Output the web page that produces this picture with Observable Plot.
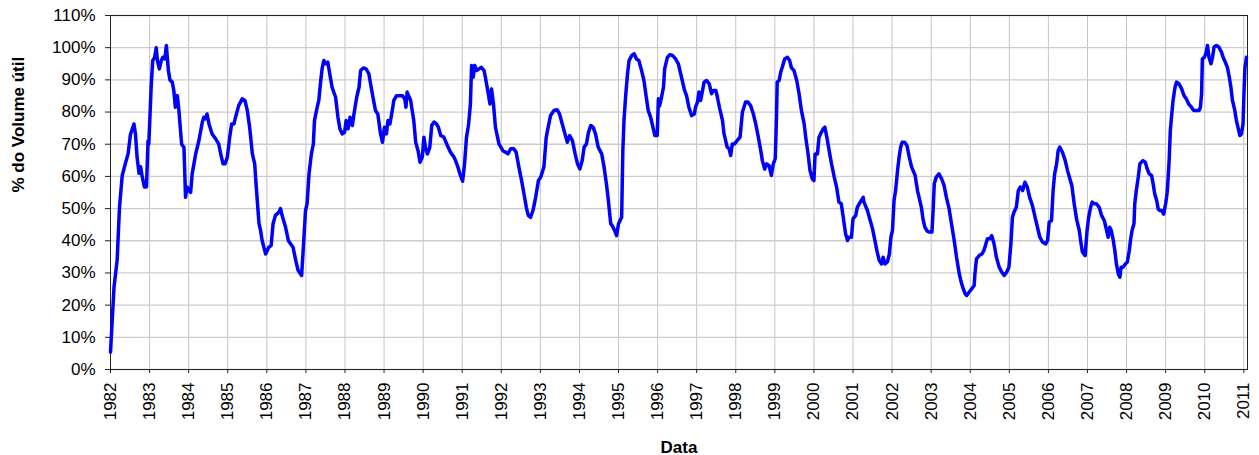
<!DOCTYPE html>
<html>
<head>
<meta charset="utf-8">
<script src="https://cdn.jsdelivr.net/npm/d3@7"></script>
<script src="https://cdn.jsdelivr.net/npm/@observablehq/plot@0.6"></script>
<style>
  body { margin: 0; background: #fff; }
</style>
</head>
<body>
<div id="chart"></div>
<script>
// ano (decimal) e % do volume útil
let anos = [
  1982.00, 1982.09, 1982.17, 1982.23, 1982.30, 1982.38, 1982.45, 1982.51, 1982.60, 1982.64,
  1982.68, 1982.73, 1982.77, 1982.81, 1982.87, 1982.92, 1982.96, 1982.98, 1983.04, 1983.08,
  1983.13, 1983.17, 1983.20, 1983.25, 1983.30, 1983.34, 1983.39, 1983.43, 1983.48, 1983.52,
  1983.58, 1983.62, 1983.66, 1983.71, 1983.75, 1983.82, 1983.88, 1983.92, 1983.96, 1984.01,
  1984.05, 1984.09, 1984.18, 1984.26, 1984.35, 1984.39, 1984.43, 1984.47, 1984.52, 1984.60,
  1984.69, 1984.77, 1984.82, 1984.88, 1984.93, 1984.99, 1985.05, 1985.10, 1985.16, 1985.20,
  1985.28, 1985.37, 1985.44, 1985.50, 1985.56, 1985.63, 1985.69, 1985.73, 1985.80, 1985.84,
  1985.88, 1985.97, 1986.05, 1986.11, 1986.16, 1986.22, 1986.31, 1986.35, 1986.39, 1986.48,
  1986.55, 1986.61, 1986.67, 1986.74, 1986.80, 1986.89, 1986.93, 1986.99, 1987.03, 1987.08,
  1987.14, 1987.19, 1987.22, 1987.29, 1987.33, 1987.38, 1987.42, 1987.46, 1987.51, 1987.56,
  1987.61, 1987.67, 1987.76, 1987.82, 1987.87, 1987.93, 1987.99, 1988.03, 1988.08, 1988.13,
  1988.19, 1988.23, 1988.30, 1988.36, 1988.40, 1988.47, 1988.54, 1988.61, 1988.70, 1988.78,
  1988.84, 1988.91, 1988.96, 1989.01, 1989.06, 1989.10, 1989.15, 1989.21, 1989.25, 1989.32,
  1989.41, 1989.47, 1989.53, 1989.56, 1989.59, 1989.68, 1989.76, 1989.81, 1989.87, 1989.92,
  1989.98, 1990.02, 1990.06, 1990.11, 1990.17, 1990.22, 1990.28, 1990.34, 1990.39, 1990.45,
  1990.53, 1990.62, 1990.70, 1990.79, 1990.83, 1990.89, 1990.94, 1991.01, 1991.06, 1991.11,
  1991.16, 1991.21, 1991.24, 1991.28, 1991.32, 1991.37, 1991.43, 1991.49, 1991.56, 1991.60,
  1991.66, 1991.71, 1991.75, 1991.80, 1991.85, 1991.94, 1992.04, 1992.11, 1992.17, 1992.24,
  1992.32, 1992.38, 1992.45, 1992.52, 1992.58, 1992.64, 1992.69, 1992.75, 1992.81, 1992.88,
  1992.95, 1993.01, 1993.09, 1993.15, 1993.20, 1993.26, 1993.35, 1993.43, 1993.49, 1993.56,
  1993.63, 1993.69, 1993.75, 1993.82, 1993.89, 1993.95, 1994.01, 1994.07, 1994.12, 1994.18,
  1994.23, 1994.29, 1994.35, 1994.41, 1994.48, 1994.57, 1994.63, 1994.69, 1994.74, 1994.80,
  1994.84, 1994.90, 1994.95, 1995.00, 1995.04, 1995.08, 1995.11, 1995.14, 1995.18, 1995.23,
  1995.27, 1995.34, 1995.40, 1995.46, 1995.52, 1995.59, 1995.65, 1995.71, 1995.76, 1995.82,
  1995.88, 1995.93, 1995.99, 1996.02, 1996.05, 1996.10, 1996.15, 1996.18, 1996.25, 1996.31,
  1996.38, 1996.46, 1996.53, 1996.59, 1996.65, 1996.69, 1996.74, 1996.80, 1996.87, 1996.94,
  1996.97, 1997.02, 1997.06, 1997.10, 1997.15, 1997.19, 1997.25, 1997.32, 1997.38, 1997.43,
  1997.49, 1997.53, 1997.59, 1997.66, 1997.70, 1997.74, 1997.78, 1997.83, 1997.87, 1997.91,
  1997.97, 1998.04, 1998.11, 1998.17, 1998.21, 1998.25, 1998.31, 1998.38, 1998.45, 1998.51,
  1998.57, 1998.64, 1998.68, 1998.74, 1998.79, 1998.85, 1998.91, 1998.96, 1999.01, 1999.04,
  1999.06, 1999.11, 1999.15, 1999.19, 1999.25, 1999.32, 1999.38, 1999.42, 1999.49, 1999.56,
  1999.62, 1999.68, 1999.75, 1999.79, 1999.85, 1999.90, 1999.96, 2000.00, 2000.03, 2000.09,
  2000.13, 2000.19, 2000.24, 2000.28, 2000.33, 2000.39, 2000.45, 2000.52, 2000.58, 2000.64,
  2000.70, 2000.75, 2000.81, 2000.86, 2000.90, 2000.96, 2001.00, 2001.07, 2001.11, 2001.17,
  2001.26, 2001.28, 2001.37, 2001.44, 2001.50, 2001.56, 2001.61, 2001.67, 2001.73, 2001.77,
  2001.82, 2001.88, 2001.93, 2001.97, 2002.01, 2002.05, 2002.09, 2002.14, 2002.18, 2002.22,
  2002.26, 2002.32, 2002.38, 2002.44, 2002.50, 2002.59, 2002.65, 2002.71, 2002.75, 2002.79,
  2002.84, 2002.90, 2002.96, 2003.02, 2003.05, 2003.08, 2003.13, 2003.20, 2003.27, 2003.33,
  2003.39, 2003.46, 2003.52, 2003.59, 2003.65, 2003.72, 2003.77, 2003.82, 2003.87, 2003.91,
  2003.97, 2004.04, 2004.10, 2004.12, 2004.16, 2004.23, 2004.30, 2004.35, 2004.40, 2004.44,
  2004.50, 2004.55, 2004.61, 2004.67, 2004.74, 2004.81, 2004.87, 2004.93, 2004.99, 2005.04,
  2005.08, 2005.12, 2005.18, 2005.23, 2005.28, 2005.34, 2005.40, 2005.46, 2005.52, 2005.59,
  2005.66, 2005.72, 2005.78, 2005.85, 2005.93, 2005.98, 2006.02, 2006.08, 2006.12, 2006.16,
  2006.21, 2006.25, 2006.29, 2006.36, 2006.43, 2006.49, 2006.55, 2006.60, 2006.66, 2006.72,
  2006.79, 2006.83, 2006.87, 2006.94, 2006.99, 2007.03, 2007.08, 2007.12, 2007.17, 2007.23,
  2007.30, 2007.36, 2007.43, 2007.49, 2007.53, 2007.57, 2007.61, 2007.66, 2007.70, 2007.74,
  2007.79, 2007.83, 2007.86, 2007.91, 2007.97, 2008.02, 2008.07, 2008.10, 2008.14, 2008.19,
  2008.21, 2008.25, 2008.30, 2008.34, 2008.38, 2008.42, 2008.48, 2008.53, 2008.58, 2008.64,
  2008.68, 2008.72, 2008.77, 2008.81, 2008.85, 2008.90, 2008.95, 2009.00, 2009.04, 2009.06,
  2009.09, 2009.12, 2009.15, 2009.19, 2009.24, 2009.28, 2009.34, 2009.41, 2009.47, 2009.53,
  2009.59, 2009.66, 2009.72, 2009.79, 2009.86, 2009.89, 2009.92, 2009.94, 2009.99, 2010.03,
  2010.07, 2010.11, 2010.16, 2010.20, 2010.24, 2010.30, 2010.36, 2010.43, 2010.47, 2010.53,
  2010.58, 2010.63, 2010.67, 2010.71, 2010.77, 2010.81, 2010.86, 2010.90, 2010.94, 2010.98,
  2011.01, 2011.03, 2011.07
];

let volume = [
  5.4, 25.6, 34, 50.4, 60.3, 64, 67, 73, 76.3, 73,
  66, 61, 63, 60, 56.7, 56.7, 71, 70, 87.7, 96,
  97, 100, 96, 93.4, 96, 97, 96.5, 100.7, 93, 90,
  89.3, 86.7, 81.5, 85.1, 80.5, 70, 69, 53.5, 56.7, 55.6,
  55, 60.8, 67, 71, 76.9, 78.4, 77.9, 79.4, 76.3, 73.2,
  71.7, 70, 67, 63.9, 63.9, 66, 72.2, 76.3, 76.3, 78.4,
  82, 84.1, 83.6, 80.5, 75.3, 67, 63.9, 56.7, 45.3, 43.2,
  40.1, 35.9, 38, 38.5, 45.3, 47.9, 48.9, 50, 47.9, 44.2,
  40.1, 39, 38, 33.9, 30.8, 29.2, 37, 49.4, 51.5, 60.8,
  67, 70, 77.4, 81.5, 83.6, 89.8, 93.9, 96, 95, 95.5,
  91.9, 87.7, 84.6, 78.4, 74.8, 73.2, 73.7, 77.4, 74.8, 78.4,
  75.8, 79.4, 84.6, 87.7, 92.9, 93.7, 93.4, 91.9, 85.7, 80.5,
  79.4, 73.2, 70.6, 75.3, 73.2, 77.4, 76.3, 80.5, 83.6, 85.1,
  85.1, 85.1, 84.1, 81.5, 86.2, 83.6, 77.4, 70.6, 68, 64.4,
  66, 72.2, 69, 67, 69, 75.8, 76.9, 76.3, 75.3, 72.7,
  72.2, 69.6, 67.5, 66, 64.9, 62.9, 60.8, 58.5, 63.9, 72.2,
  75.8, 82.5, 94.5, 90.8, 94.5, 92.9, 93.4, 93.9, 92.9, 90.3,
  86.2, 82.5, 87.2, 82.5, 75.3, 70.1, 68, 67.5, 67, 68.6,
  68.6, 67.5, 62.9, 58.7, 54.6, 50.4, 47.9, 47.3, 49.4, 53.5,
  58.7, 59.8, 62.9, 72.2, 75.3, 78.9, 80.5, 80.7, 79.4, 76.3,
  73.2, 70.6, 72.7, 71.1, 67, 63.9, 62.3, 64.9, 69.1, 70.1,
  73.7, 75.8, 75.3, 73.2, 69.1, 67, 62.9, 57.7, 52.5, 45.3,
  44.7, 43.2, 41.6, 45.3, 46.3, 47.3, 68, 77.4, 84.6, 91.9,
  96, 97.6, 98.1, 96.5, 96, 92.9, 89.8, 84.6, 80.5, 78.4,
  75.3, 72.7, 72.7, 84.1, 81.9, 84.6, 87.7, 93.4, 97, 97.8,
  97.6, 96.5, 95, 91.9, 88.8, 86.7, 85.1, 81.5, 78.9, 79.4,
  81.5, 83.1, 86.2, 83.6, 86.7, 89.3, 89.8, 88.8, 85.7, 86.7,
  86.7, 84.6, 81, 77.4, 73.2, 71.2, 69.1, 68.6, 66.5, 70.1,
  70.1, 71.2, 72.2, 80, 81.5, 83.1, 83.1, 82, 79.4, 76.3,
  72.7, 68, 64.9, 62.3, 63.9, 63.4, 60.3, 63.9, 65.5, 77.4,
  89.3, 89.8, 92.4, 93.9, 96.5, 97, 96, 93.9, 92.9, 89.8,
  85.7, 80.5, 76.3, 72.2, 67, 61.8, 59.2, 58.7, 67, 67,
  72.2, 73.7, 74.8, 75.3, 72.2, 68, 63.9, 59.8, 56.7, 52,
  51.5, 47.3, 42.2, 40.1, 41.1, 41.1, 46.8, 47.9, 50.4, 51.7,
  53.5, 52, 49.4, 46.3, 43.7, 40.1, 37, 33.9, 32.8, 34.9,
  32.8, 33.4, 35.9, 41.1, 43.2, 52.5, 55.6, 61.8, 66, 69.1,
  70.6, 70.6, 69.6, 66, 62.9, 60.3, 55.6, 52.5, 50.4, 46.8,
  44.2, 43, 42.7, 42.7, 49.4, 57.7, 59.8, 60.8, 59.2, 57.2,
  53.5, 49.9, 45.3, 40.1, 34.9, 29.7, 27.1, 25.1, 23.5, 23,
  24, 25.1, 26.1, 29.7, 34.4, 35.4, 35.9, 37, 39, 40.6,
  40.6, 41.6, 39, 34.9, 31.8, 30.2, 29.2, 30.2, 31.8, 39,
  47.3, 48.9, 50.4, 55.6, 56.7, 55.6, 58.2, 56.7, 53.5, 51,
  47.3, 44.2, 41.1, 39.6, 39, 40.1, 45.8, 46.3, 55.6, 60.8,
  63.9, 68, 69.1, 67.5, 64.9, 61.8, 59.2, 57.2, 51.5, 46.8,
  43.2, 39.6, 36.5, 35.4, 43.2, 47.3, 50.4, 52, 51.5, 51.5,
  50.4, 47.9, 46.3, 43.2, 41.1, 44.2, 43.2, 40.1, 37, 32.8,
  29.7, 28.7, 31.8, 31.8, 32.8, 33.4, 37, 40.1, 43.2, 45.3,
  51.5, 55.6, 59.8, 63.9, 64.4, 64.9, 64.4, 62.3, 60.8, 60.3,
  57.7, 54.6, 52.5, 49.9, 49.4, 49.4, 48.3, 51.5, 55.1, 58.7,
  64.9, 74.3, 78.4, 83.6, 87.7, 89.3, 88.8, 87.2, 85.1, 84.1,
  82.5, 81.5, 80.5, 80.5, 80.5, 81.5, 85.7, 96.5, 97, 98.1,
  100.7, 97, 95, 97, 100.2, 100.7, 100.2, 98.6, 97, 95.4,
  93.9, 90.8, 87.7, 83.6, 80.5, 77.4, 74.8, 72.7, 73.2, 76.3,
  87.7, 93.9, 97
];

let anosTicks = [1982, 1983, 1984, 1985, 1986, 1987, 1988, 1989, 1990, 1991,
  1992, 1993, 1994, 1995, 1996, 1997, 1998, 1999, 2000, 2001,
  2002, 2003, 2004, 2005, 2006, 2007, 2008, 2009, 2010, 2011];
let pctTicks = [0, 10, 20, 30, 40, 50, 60, 70, 80, 90, 100, 110];

let serie = anos.map((a, i) => ({ ano: a, volume: volume[i] }));

let chart = Plot.plot({
  width: 1259,
  height: 455,
  marginLeft: 110,
  marginRight: 12,
  marginTop: 15,
  marginBottom: 86,
  style: { fontFamily: "'Liberation Sans', Arial, sans-serif", fontSize: "17px", color: "#000", background: "#fff" },
  x: { domain: [1982, 2011.095] },
  y: { domain: [0, 110] },
  marks: [
    Plot.gridX(anosTicks, { stroke: "#c4c4c4", strokeOpacity: 1 }),
    Plot.gridY(pctTicks, { stroke: "#cccccc", strokeOpacity: 1, strokeWidth: 1.3 }),
    Plot.frame({ stroke: "#222" }),
    Plot.axisX(anosTicks, { tickFormat: "d", tickRotate: -90, tickSize: 4, tickPadding: 9, label: null, stroke: "#222" }),
    Plot.axisY(pctTicks, { tickFormat: (d) => d + "%", tickSize: 5, tickPadding: 10, label: null, stroke: "#222" }),
    Plot.line(serie, { x: "ano", y: "volume", stroke: "#0000ff", strokeWidth: 3.5 }),
    Plot.text(["Data"], { frameAnchor: "bottom", dy: 83, fontWeight: "bold", fontSize: 17 }),
    Plot.text(["% do Volume útil"], { frameAnchor: "left", dx: -92, rotate: -90, fontWeight: "bold", fontSize: 17 }),
  ],
});

d3.select("#chart").append(() => chart);
</script>
</body>
</html>
